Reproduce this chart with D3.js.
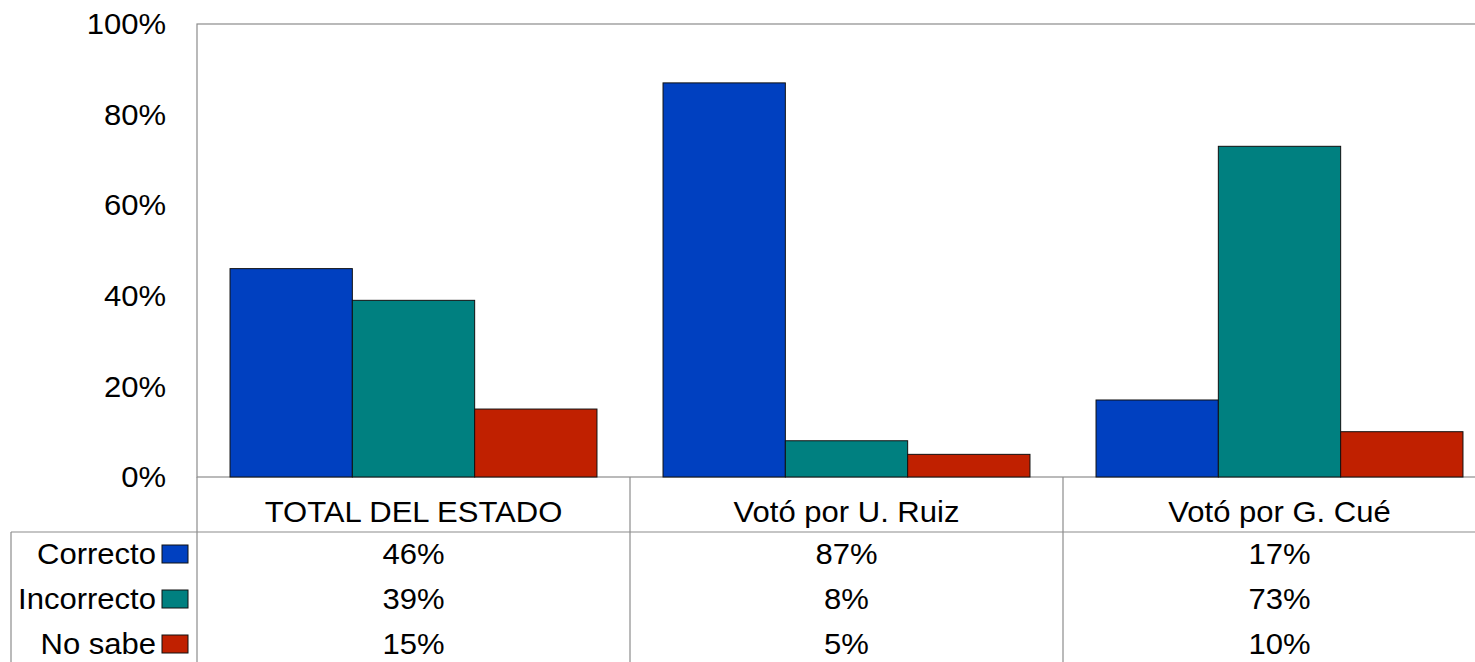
<!DOCTYPE html>
<html>
<head>
<meta charset="utf-8">
<script src="https://cdn.jsdelivr.net/npm/d3@7"></script>
<style>
  body { margin: 0; background: #fff; }
  svg { display: block; font-family: 'Liberation Sans', Arial, sans-serif; }
</style>
</head>
<body>
<svg id="chart" width="1475" height="662"></svg>
<script>
const categories = ['TOTAL DEL ESTADO', 'Votó por U. Ruiz', 'Votó por G. Cué'];
const seriesNames = ['Correcto', 'Incorrecto', 'No sabe'];
const correcto = [46, 87, 17];
const incorrecto = [39, 8, 73];
const noSabe = [15, 5, 10];
const yTicks = [0, 20, 40, 60, 80, 100];

const seriesValues = [correcto, incorrecto, noSabe];
const colors = ['#0040c0', '#008080', '#c02000'];

const PLOT = { left: 197, top: 24, right: 1496, bottom: 477 };
const TABLE = { left: 11, headerBottom: 532, rowH: 45, bottom: 662 };
const FONT_SIZE = 29;
const STRETCH = 1.07; // source text is slightly wider than Arial

const svg = d3.select('#chart');

const x = d3.scaleBand().domain(categories).range([PLOT.left, PLOT.right]);
const xInner = d3
  .scaleBand()
  .domain(seriesNames)
  .range([0, x.bandwidth()])
  .paddingInner(0)
  .paddingOuter(0.27);
const y = d3.scaleLinear().domain([0, 100]).range([PLOT.bottom, PLOT.top]);

// places a text at (tx, ty) with a small horizontal stretch
const place = (sel, fx, fy) =>
  sel
    .attr('x', 0)
    .attr('y', 0)
    .attr('dy', '0.35em')
    .attr('font-size', FONT_SIZE)
    .attr('fill', '#000')
    .attr('transform', (d, i) => `translate(${fx(d, i)},${fy(d, i)}) scale(${STRETCH},1)`);

// plot frame
svg
  .append('rect')
  .attr('x', PLOT.left)
  .attr('y', PLOT.top)
  .attr('width', PLOT.right - PLOT.left)
  .attr('height', PLOT.bottom - PLOT.top)
  .attr('fill', 'none')
  .attr('stroke', '#8c8c8c')
  .attr('stroke-width', 1.2);

// y axis
const yAxis = svg
  .append('g')
  .call(d3.axisLeft(y).tickValues(yTicks).tickSize(0).tickFormat((d) => d + '%'));
yAxis.select('.domain').remove();
yAxis.attr('font-family', null).attr('font-size', null);
yAxis.selectAll('.tick').attr('transform', null);
place(
  yAxis.selectAll('text').attr('text-anchor', 'end'),
  () => 166,
  (d) => y(d)
);

// bars
const groups = svg
  .selectAll('.group')
  .data(categories)
  .enter()
  .append('g')
  .classed('group', true)
  .attr('transform', (d) => `translate(${x(d)},0)`);

groups
  .selectAll('rect')
  .data((d, i) => seriesNames.map((s, j) => ({ s, j, v: seriesValues[j][i] })))
  .enter()
  .append('rect')
  .attr('x', (d) => xInner(d.s))
  .attr('width', xInner.bandwidth())
  .attr('y', (d) => y(d.v))
  .attr('height', (d) => PLOT.bottom - y(d.v))
  .attr('fill', (d) => colors[d.j])
  .attr('stroke', '#111')
  .attr('stroke-width', 1);

// data table lines
const lines = svg.append('g').attr('stroke', '#8c8c8c').attr('stroke-width', 1.2);
lines
  .append('line')
  .attr('x1', TABLE.left)
  .attr('x2', PLOT.right)
  .attr('y1', TABLE.headerBottom)
  .attr('y2', TABLE.headerBottom);
lines
  .append('line')
  .attr('x1', TABLE.left)
  .attr('x2', TABLE.left)
  .attr('y1', TABLE.headerBottom)
  .attr('y2', TABLE.bottom);
lines
  .selectAll('.vsep')
  .data(categories.concat(['end']))
  .enter()
  .append('line')
  .attr('x1', (d, i) => PLOT.left + i * x.step())
  .attr('x2', (d, i) => PLOT.left + i * x.step())
  .attr('y1', PLOT.bottom)
  .attr('y2', TABLE.bottom);

// category header labels
place(
  svg
    .selectAll('.cat')
    .data(categories)
    .enter()
    .append('text')
    .classed('cat', true)
    .attr('text-anchor', 'middle')
    .text((d) => d),
  (d) => x(d) + x.bandwidth() / 2,
  () => 512
);

// rows: legend keys, names, values
const rowY = (j) => TABLE.headerBottom + 22 + j * TABLE.rowH;

const rows = svg
  .selectAll('.row')
  .data(seriesNames)
  .enter()
  .append('g')
  .classed('row', true);

rows
  .append('rect')
  .attr('x', 162)
  .attr('y', (d, j) => rowY(j) - 9)
  .attr('width', 26)
  .attr('height', 18)
  .attr('fill', (d, j) => colors[j])
  .attr('stroke', '#111')
  .attr('stroke-width', 1);

place(
  rows.append('text').attr('text-anchor', 'end').text((d) => d),
  () => 156,
  (d) => rowY(seriesNames.indexOf(d))
);

place(
  rows
    .selectAll('.val')
    .data((d, j) => categories.map((c, i) => ({ c, j, v: seriesValues[j][i] })))
    .enter()
    .append('text')
    .classed('val', true)
    .attr('text-anchor', 'middle')
    .text((d) => d.v + '%'),
  (d) => x(d.c) + x.bandwidth() / 2,
  (d) => rowY(d.j)
);
</script>
</body>
</html>
